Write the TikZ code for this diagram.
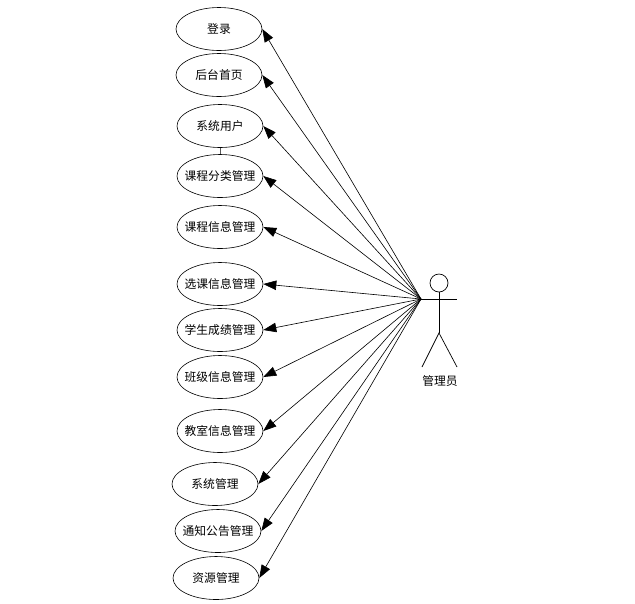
\documentclass[tikz,border=0pt]{standalone}
\usepackage{fontspec}
\usepackage{xcolor}
\setmainfont{Noto Sans CJK SC}
\usetikzlibrary{shapes.geometric,arrows.meta}

\begin{document}
\begin{tikzpicture}[x=0.02cm,y=-0.02cm,every node/.style={font=\fontsize{6.7pt}{8pt}\selectfont},
  usecase/.style={draw,ellipse,line width=0.35pt,minimum width=1.72cm,minimum height=0.86cm,inner xsep=-3pt,inner ysep=0pt},
  actorline/.style={line width=0.4pt},
  assoc/.style={line width=0.35pt,-{Triangle[length=0.26cm,width=0.19cm]}}]
\useasboundingbox (0,0) rectangle (635,603);
\fill[white] (0,0) rectangle (635,603);
\node[usecase] (login) at (219,29) {登录};
\node[usecase] (home) at (219,75) {后台首页};
\node[usecase] (sysuser) at (220,126) {系统用户};
\node[usecase] (coursecat) at (220,176) {课程分类管理};
\node[usecase] (courseinfo) at (220,227) {课程信息管理};
\node[usecase] (select) at (220,284) {选课信息管理};
\node[usecase] (score) at (220,330) {学生成绩管理};
\node[usecase] (classinfo) at (220,377) {班级信息管理};
\node[usecase] (room) at (220,431) {教室信息管理};
\node[usecase] (system) at (215,484) {系统管理};
\node[usecase] (notice) at (218,531) {通知公告管理};
\node[usecase] (resource) at (216,578) {资源管理};
\draw[line width=0.5pt,gray!70!black] (sysuser) -- (coursecat);
% actor
\node[draw,circle,actorline,minimum size=0.36cm,inner sep=0pt] (head) at (439,283) {};
\coordinate (hand) at (421,299);
\coordinate (handr) at (457,299);
\coordinate (hip) at (439,333);
\coordinate (footl) at (422,367);
\coordinate (footr) at (457,367);
\draw[actorline] (head) -- (hip);
\draw[actorline] (hand) -- (handr);
\draw[actorline] (footl) -- (hip) -- (footr);
\node (admin) at (440,381) {管理员};
\foreach \target in {login,home,sysuser,coursecat,courseinfo,select,score,classinfo,room,system,notice,resource}
  \draw[assoc] (hand) -- (\target.east);
\end{tikzpicture}
\end{document}
